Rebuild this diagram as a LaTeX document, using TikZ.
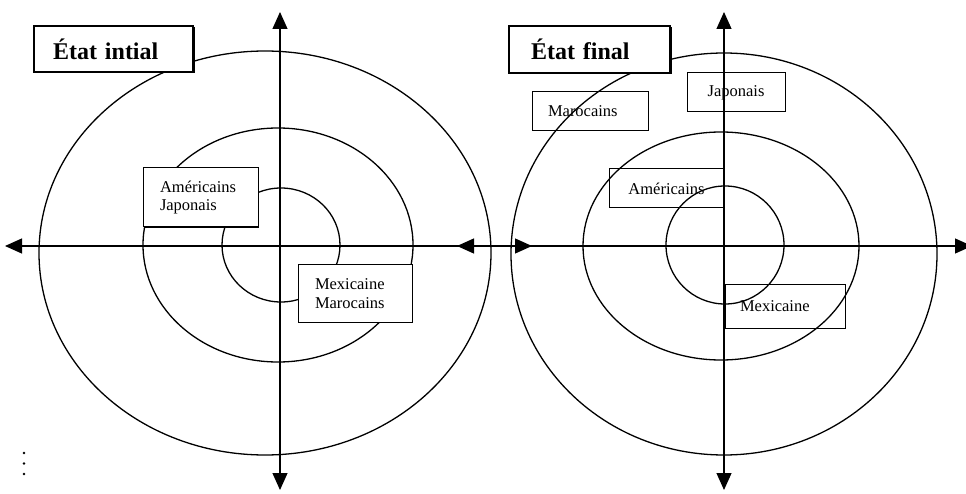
\documentclass[tikz,border=0pt]{standalone}
\usepackage{fontspec}
\setmainfont{Liberation Serif}
\usetikzlibrary{arrows.meta,shadows}
\begin{document}
\begin{tikzpicture}[x=1pt,y=-1pt,
  ring/.style={line width=1.3pt},
  axis/.style={line width=1.2pt,{Triangle[length=17pt,width=15pt]}-{Triangle[length=17pt,width=15pt]}},
  titlebox/.style={draw,line width=1.4pt,fill=white,inner ysep=0pt,align=left,
    font=\fontsize{24}{26}\selectfont\bfseries,
    drop shadow={shadow xshift=1.5pt,shadow yshift=-1.5pt,fill=black,opacity=1}},
  solidbox/.style={draw,line width=1pt,fill=white,inner ysep=0pt,align=left,
    font=\fontsize{16.5}{18.5}\selectfont,
    drop shadow={shadow xshift=1.2pt,shadow yshift=-1.2pt,fill=black,opacity=1}},
  openbox/.style={draw,line width=1pt,inner ysep=0pt,
    font=\fontsize{16.5}{18.5}\selectfont},
  dot/.style={circle,fill=black,inner sep=0pt,minimum size=2.6pt}
]
\useasboundingbox (0,0) rectangle (966,494);
% rings, left
\draw[ring] (265,253) ellipse [x radius=226pt, y radius=202pt];
\draw[ring] (278,245) ellipse [x radius=135pt, y radius=117pt];
\draw[ring] (281,245) ellipse [x radius=59pt, y radius=57pt];
% rings, right
\draw[ring] (724,254) ellipse [x radius=213pt, y radius=201pt];
\draw[ring] (721,246) ellipse [x radius=138pt, y radius=114pt];
\draw[ring] (725,245) ellipse [x radius=59pt, y radius=59pt];
% axes
\coordinate (lw) at (5,246);
\coordinate (le) at (532,246);
\coordinate (ln) at (280,12);
\coordinate (ls) at (280,490);
\coordinate (rw) at (457,246);
\coordinate (re) at (972,246);
\coordinate (rn) at (724,12);
\coordinate (rs) at (724,490);
\draw[axis] (lw) -- (le);
\draw[axis] (ln) -- (ls);
\draw[axis] (rw) -- (re);
\draw[axis] (rn) -- (rs);
% titles
\node[titlebox,text width=121pt,inner xsep=19pt,minimum height=46pt] (t1) at (113.5,49) {État intial};
\node[titlebox,text width=117pt,inner xsep=22pt,minimum height=47pt] (t2) at (589.5,49.5) {État final};
% left labels
\node[solidbox,text width=81pt,inner xsep=17pt,minimum height=59pt] (a1) at (200.5,197.5) {Américains\\Japonais};
\node[solidbox,text width=80pt,inner xsep=17pt,minimum height=57pt] (m1) at (355,293.5) {Mexicaine\\Marocains};
% right labels
\node[openbox,align=left,text width=84pt,inner xsep=16pt,minimum height=39pt] (m2) at (590,111.5) {Marocains};
\node[openbox,align=center,minimum width=98pt,minimum height=39pt] (j2) at (736,92.5) {Japonais};
\node[openbox,align=center,minimum width=115pt,minimum height=39pt] (a2) at (666.5,188.5) {Américains};
\node[openbox,align=left,text width=90pt,inner xsep=15pt,minimum height=43pt] (x2) at (785,306.5) {Mexicaine};
% dots
\node[dot] (d1) at (24,453) {};
\node[dot] (d2) at (24,463.5) {};
\node[dot] (d3) at (24,474) {};
\end{tikzpicture}
\end{document}
